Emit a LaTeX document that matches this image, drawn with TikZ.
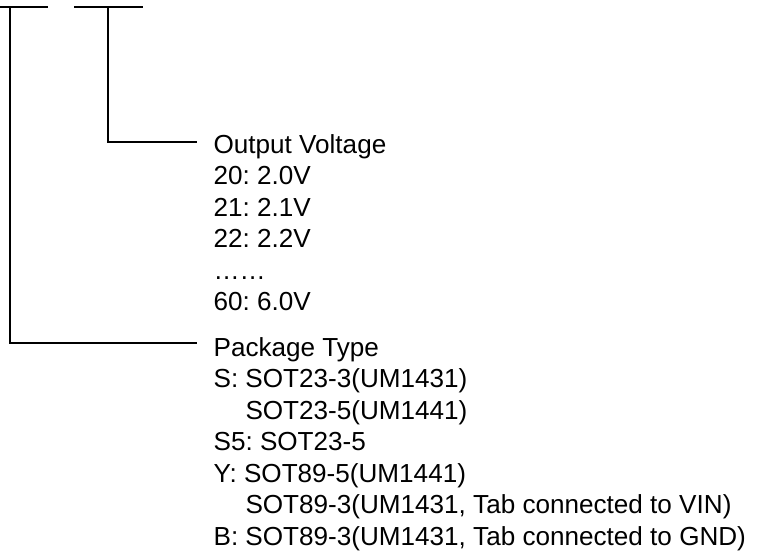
\documentclass[tikz,border=0pt]{standalone}
\usepackage{fontspec}
\setmainfont{Liberation Sans}
\frenchspacing
\begin{document}
\begin{tikzpicture}[x=1pt,y=-1pt,line width=1.2pt]

      \useasboundingbox (0,0) rectangle (757,554);

      \begin{scope}[every node/.style={anchor=base west,inner sep=0pt,
          font=\fontsize{26.1}{31.5}\selectfont}]
        \foreach \txt [count=\i] in {Output Voltage, 20: 2.0V, 21: 2.1V,
            22: 2.2V, ……, 60: 6.0V}
          \node (v\i) at (213,153+31.5*\i-31.5) {\txt};
        \foreach \txt [count=\i] in {Package Type, S: SOT23-3(UM1431),
            \phantom{S: }SOT23-5(UM1441), S5: SOT23-5, Y: SOT89-5(UM1441),
            {\phantom{S: }SOT89-3(UM1431, Tab connected to VIN)},
            {B: SOT89-3(UM1431, Tab connected to GND)}}
          \node (p\i) at (213,356+31.5*\i-31.5) {\txt};
      \end{scope}

      \coordinate (pbar1) at (0,7);
      \coordinate (pbar2) at (48,7);
      \coordinate (vbar1) at (74,7);
      \coordinate (vbar2) at (143,7);
      \coordinate (ptop) at (10,7);
      \coordinate (vtop) at (108,7);
      \coordinate (vend) at (197,142);
      \coordinate (pend) at (197,343);

      \draw (pbar1) -- (pbar2);
      \draw (vbar1) -- (vbar2);
      \draw (vtop) |- (vend);
      \draw (ptop) |- (pend);

    \end{tikzpicture}
\end{document}
